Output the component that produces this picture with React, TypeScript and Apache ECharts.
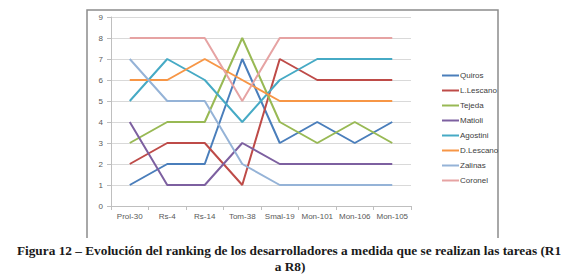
import React, { useEffect, useRef } from "react";
import * as echarts from "echarts";

const categories = ["Prol-30", "Rs-4", "Rs-14", "Tom-38", "Smal-19", "Mon-101", "Mon-106", "Mon-105"];
const quiros = [1, 2, 2, 7, 3, 4, 3, 4];
const lLescano = [2, 3, 3, 1, 7, 6, 6, 6];
const tejeda = [3, 4, 4, 8, 4, 3, 4, 3];
const matioli = [4, 1, 1, 3, 2, 2, 2, 2];
const agostini = [5, 7, 6, 4, 6, 7, 7, 7];
const dLescano = [6, 6, 7, 6, 5, 5, 5, 5];
const zalinas = [7, 5, 5, 2, 1, 1, 1, 1];
const coronel = [8, 8, 8, 5, 8, 8, 8, 8];
const yTicks = [0, 1, 2, 3, 4, 5, 6, 7, 8, 9];

const seriesList = [
  { name: "Quiros", data: quiros, color: "#4A7EBB" },
  { name: "L.Lescano", data: lLescano, color: "#BE4B48" },
  { name: "Tejeda", data: tejeda, color: "#98B954" },
  { name: "Matioli", data: matioli, color: "#7D60A0" },
  { name: "Agostini", data: agostini, color: "#46AAC5" },
  { name: "D.Lescano", data: dLescano, color: "#F79646" },
  { name: "Zalinas", data: zalinas, color: "#95B3D7" },
  { name: "Coronel", data: coronel, color: "#E6A3A3" },
];

const caption1 = "Figura 12 – Evolución del ranking de los desarrolladores a medida que se realizan las tareas (R1";
const caption2 = "a R8)";

export default function App() {
  const ref = useRef<HTMLDivElement>(null);
  useEffect(() => {
    const chart = echarts.init(ref.current!, null, { renderer: "svg" });
    const axisFont = { fontFamily: "Liberation Sans, sans-serif", fontSize: 8, color: "#595959" };
    chart.setOption({
      animation: false,
      backgroundColor: "#ffffff",
      grid: { left: 111, right: 169, top: 17, bottom: 70 },
      xAxis: {
        type: "category",
        data: categories,
        boundaryGap: true,
        axisLine: { lineStyle: { color: "#BFBFBF", width: 1 } },
        axisTick: { show: true, length: 4, lineStyle: { color: "#BFBFBF" } },
        axisLabel: { ...axisFont, margin: 6, interval: 0 },
        splitLine: { show: false },
      },
      yAxis: {
        type: "value",
        min: yTicks[0],
        max: yTicks[yTicks.length - 1],
        interval: 1,
        axisLine: { show: true, lineStyle: { color: "#BFBFBF", width: 1 } },
        axisTick: { show: true, length: 4, lineStyle: { color: "#BFBFBF" } },
        axisLabel: { ...axisFont, margin: 8 },
        splitLine: { show: true, lineStyle: { color: "#D9D9D9", width: 1 } },
      },
      legend: {
        orient: "vertical",
        left: 437,
        top: 65,
        itemWidth: 17,
        itemHeight: 2,
        itemGap: 4,
        icon: "rect",
        textStyle: { fontFamily: "Liberation Sans, sans-serif", fontSize: 8, color: "#404040", lineHeight: 11, padding: [0, 0, 0, -4] },
        data: seriesList.map((s) => s.name),
      },
      series: seriesList.map((s) => ({
        name: s.name,
        type: "line",
        data: s.data,
        symbol: "none",
        color: s.color,
        lineStyle: { width: 2, color: s.color },
      })),
      graphic: [
        {
          type: "polyline",
          shape: { points: [[87, 238], [87, 10], [498, 10], [498, 238]] },
          style: { stroke: "#8C8C8C", lineWidth: 1.5, fill: "none" },
        },
        {
          type: "text",
          x: 289,
          y: 250,
          style: {
            text: caption1,
            fontFamily: "Liberation Serif, serif",
            fontSize: 13.3,
            fontWeight: "bold",
            fill: "#1a1a1a",
            align: "center",
            verticalAlign: "middle",
          },
        },
        {
          type: "text",
          x: 290,
          y: 266,
          style: {
            text: caption2,
            fontFamily: "Liberation Serif, serif",
            fontSize: 13.3,
            fontWeight: "bold",
            fill: "#1a1a1a",
            align: "center",
            verticalAlign: "middle",
          },
        },
      ],
    });
    return () => chart.dispose();
  }, []);
  return (
    <div
      ref={ref}
      style={{ position: "absolute", left: 0, top: 0, width: 580, height: 276 }}
    />
  );
}
